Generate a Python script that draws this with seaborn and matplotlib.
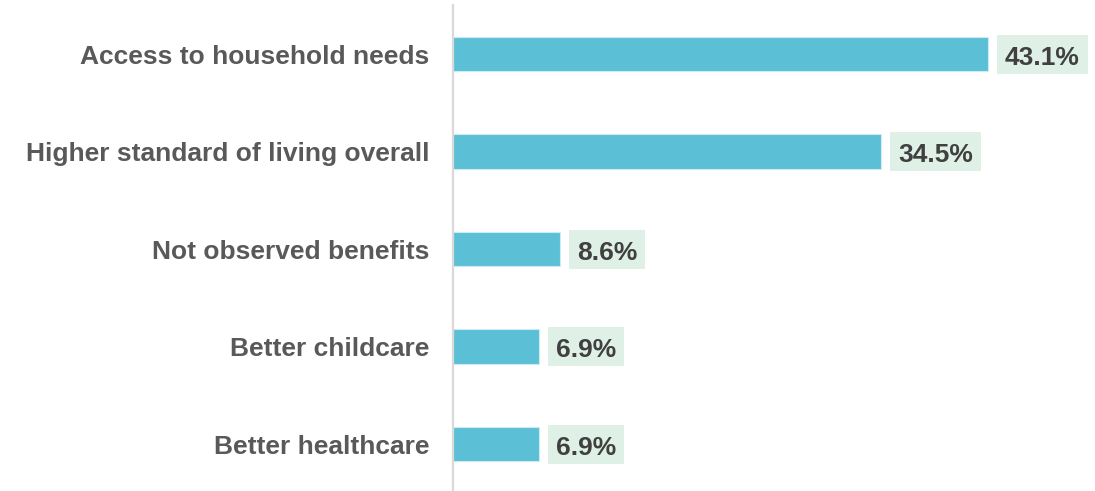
import matplotlib
matplotlib.use("Agg")
import matplotlib.pyplot as plt
from matplotlib.patches import Rectangle
from matplotlib.transforms import IdentityTransform
import seaborn as sns
import pandas as pd

categories = [
    "Access to household needs",
    "Higher standard of living overall",
    "Not observed benefits",
    "Better childcare",
    "Better healthcare",
]
values = [43.1, 34.5, 8.6, 6.9, 6.9]
value_labels = ["43.1%", "34.5%", "8.6%", "6.9%", "6.9%"]

sns.set_theme(style="white")
plt.rcParams["font.family"] = ["Liberation Sans", "DejaVu Sans"]

df = pd.DataFrame({"category": categories, "value": values})

W, H, DPI = 1095, 491, 100
PX = 72 / DPI  # points per pixel

fig = plt.figure(figsize=(W / DPI, H / DPI), dpi=DPI)
ax = fig.add_axes([453 / W, 0, (W - 453) / W, 486 / H])

sns.barplot(
    data=df, y="category", x="value", orient="h", ax=ax,
    color="#5BC0D6", saturation=1, width=0.35,
    edgecolor="#CDEBF2", linewidth=0.8,
)

ax.set_xlim(0, (W - 453) / 12.41)
ax.set_ylim(4.482, -0.503)
ax.set_xlabel("")
ax.set_ylabel("")
ax.set_xticks([])

for s in ["top", "right", "bottom"]:
    ax.spines[s].set_visible(False)
ax.spines["left"].set_color("#D9D9D9")
ax.spines["left"].set_linewidth(1.6)

ax.tick_params(axis="y", length=0, pad=17)
for t in ax.get_yticklabels():
    t.set_fontsize(19)
    t.set_fontweight("bold")
    t.set_color("#595959")

# value labels: text placed with its baseline just below the bar centre
texts = []
for i, (v, lab) in enumerate(zip(values, value_labels)):
    t = ax.annotate(
        lab, xy=(v, i), xytext=(17 * PX, -10.5 * PX), textcoords="offset points",
        ha="left", va="baseline", fontsize=19, fontweight="bold", color="#404040",
        zorder=4,
    )
    texts.append(t)

# shaded label boxes drawn behind the value text, in pixel coordinates
fig.canvas.draw()
renderer = fig.canvas.get_renderer()
for i, (v, t) in enumerate(zip(values, texts)):
    bx, by = ax.transData.transform((v, i))
    ext = t.get_window_extent(renderer)
    left = bx + 9
    right = ext.x1 + 8
    rect = Rectangle((left, by - 19.5), right - left, 39,
                     transform=IdentityTransform(), facecolor="#DFF0E6",
                     edgecolor="none", zorder=3, clip_on=False)
    ax.add_artist(rect)

fig.savefig("out.png", dpi=DPI)
